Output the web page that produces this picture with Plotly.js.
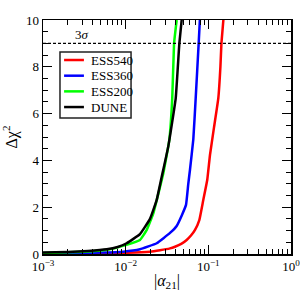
<!DOCTYPE html>
<html>
<head>
<meta charset="utf-8">
<script src="https://cdn.plot.ly/plotly-3.0.1.min.js"></script>
<style>html,body{margin:0;padding:0;background:#fff;}#chart{width:300px;height:300px;}</style>
</head>
<body>
<div id="chart"></div>
<script>
// Series names and colours
const seriesNames = ["ESS540", "ESS360", "ESS200", "DUNE"];
const seriesColors = ["#ff0000", "#0000ff", "#00ff00", "#000000"];

// |alpha21| values and Delta chi^2 values
const ess540X = [0.001, 0.002, 0.005, 0.01, 0.0197, 0.026, 0.0344, 0.0395, 0.047, 0.0547, 0.062, 0.069, 0.0778, 0.0869, 0.097, 0.1047, 0.117, 0.132, 0.140, 0.144, 0.152];
const ess540Y = [0.01, 0.015, 0.03, 0.05, 0.1, 0.16, 0.24, 0.31, 0.43, 0.6, 0.8, 1.03, 1.45, 2.31, 3.16, 4.23, 5.4, 6.65, 8.0, 9.0, 10.0];

const ess360X = [0.001, 0.002, 0.005, 0.00935, 0.0149, 0.0237, 0.0344, 0.0414, 0.0477, 0.0537, 0.0572, 0.060, 0.0658, 0.0703, 0.0764, 0.079];
const ess360Y = [0.02, 0.03, 0.06, 0.1, 0.2, 0.46, 0.9, 1.2, 1.65, 2.1, 3.0, 3.6, 4.9, 6.65, 9.0, 10.0];

const ess200X = [0.001, 0.002, 0.0035, 0.006, 0.01, 0.0149, 0.018, 0.0216, 0.0285, 0.0337, 0.0366, 0.0385, 0.0414];
const ess200Y = [0.04, 0.07, 0.11, 0.18, 0.38, 0.6, 1.03, 1.74, 3.44, 4.87, 6.65, 9.0, 10.0];

const duneX = [0.001, 0.002, 0.0035, 0.0059, 0.008, 0.01028, 0.0149, 0.0197, 0.0237, 0.0273, 0.0328, 0.0403, 0.0446, 0.0476];
const duneY = [0.06, 0.09, 0.13, 0.2, 0.3, 0.46, 0.85, 1.5, 2.3, 3.3, 4.6, 6.65, 9.0, 10.0];

// Axis ticks
const xTickVals = [0.001, 0.01, 0.1, 1];
const xTickText = ["10<sup>\u22123</sup>", "10<sup>\u22122</sup>", "10<sup>\u22121</sup>", "10<sup>0</sup>"];
const yTickVals = [0, 2, 4, 6, 8, 10];
const sigma3 = 9;

const xs = [ess540X, ess360X, ess200X, duneX];
const ys = [ess540Y, ess360Y, ess200Y, duneY];

const traces = seriesNames.map((n, i) => ({
  x: xs[i], y: ys[i], name: n, type: "scatter", mode: "lines", showlegend: false,
  line: {color: seriesColors[i], width: 2.5, shape: "spline", smoothing: 0.3}
}));
// threshold line
traces.push({
  x: [xTickVals[0], xTickVals[xTickVals.length - 1]], y: [sigma3, sigma3],
  mode: "lines", showlegend: false, hoverinfo: "skip",
  line: {color: "#000", width: 1.2, dash: "3px,2px"}
});

const xMinor = [];
for (let d = 0; d < xTickVals.length - 1; d++) {
  for (let k = 2; k <= 9; k++) xMinor.push(xTickVals[d] * k);
}

const serif = "Liberation Serif, DejaVu Serif, serif";

// Legend drawn as a box in paper coordinates
const legBox = {x0: 0.0685, x1: 0.355, y0: 0.581, y1: 0.863};
const legRowTop = 0.829, legRowStep = 0.067;
const shapes = [{
  type: "rect", xref: "paper", yref: "paper",
  x0: legBox.x0, x1: legBox.x1, y0: legBox.y0, y1: legBox.y1,
  line: {color: "#222", width: 1.5}, fillcolor: "#fff", layer: "above"
}];
const annotations = [{
  xref: "paper", yref: "y", x: 0.157, y: 9.36, text: "3<i>\u03c3</i>",
  showarrow: false, xanchor: "center", yanchor: "middle",
  font: {family: serif, size: 13, color: "#000"}
}];
seriesNames.forEach((n, i) => {
  const yy = legRowTop - i * legRowStep;
  shapes.push({
    type: "line", xref: "paper", yref: "paper",
    x0: 0.085, x1: 0.165, y0: yy, y1: yy,
    line: {color: seriesColors[i], width: 2.5}, layer: "above"
  });
  annotations.push({
    xref: "paper", yref: "paper", x: 0.187, y: yy, text: n,
    showarrow: false, xanchor: "left", yanchor: "middle",
    font: {family: serif, size: 13, color: "#000"}
  });
});

const layout = {
  width: 300, height: 300,
  margin: {l: 43, r: 9, t: 20, b: 46},
  paper_bgcolor: "#fff", plot_bgcolor: "#fff",
  font: {family: serif, size: 12, color: "#000"},
  showlegend: false,
  xaxis: {
    type: "log", range: [-3, 0],
    tickmode: "array", tickvals: xTickVals, ticktext: xTickText,
    ticks: "inside", ticklen: 9, tickwidth: 1, tickcolor: "#000",
    ticklabeloverflow: "allow",
    showline: true, linecolor: "#000", linewidth: 1.5, mirror: "allticks",
    showgrid: false, zeroline: false,
    tickfont: {family: serif, size: 13},
    minor: {tickvals: xMinor, ticks: "inside", ticklen: 5, tickwidth: 1, tickcolor: "#000", showgrid: false},
    title: {text: "|<i>\u03b1</i><sub>21</sub>|", font: {family: serif, size: 16}, standoff: 1}
  },
  yaxis: {
    range: [0, 10],
    tickmode: "array", tickvals: yTickVals,
    ticks: "inside", ticklen: 9, tickwidth: 1, tickcolor: "#000",
    showline: true, linecolor: "#000", linewidth: 1.5, mirror: "allticks",
    showgrid: false, zeroline: false,
    tickfont: {family: serif, size: 13},
    minor: {dtick: 0.5, ticks: "inside", ticklen: 5, tickwidth: 1, tickcolor: "#000", showgrid: false},
    title: {text: "\u0394\u03c7<sup>2</sup>", font: {family: serif, size: 16}, standoff: 8}
  },
  shapes: shapes,
  annotations: annotations
};

Plotly.newPlot("chart", traces, layout, {displayModeBar: false, staticPlot: true});
</script>
</body>
</html>
